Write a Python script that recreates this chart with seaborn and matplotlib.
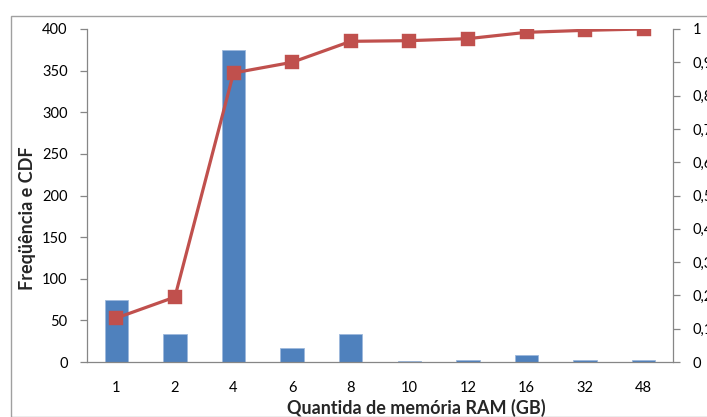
import numpy as np
import matplotlib
matplotlib.use("Agg")
import matplotlib.pyplot as plt
from matplotlib.patches import Rectangle
from matplotlib.ticker import FuncFormatter
import seaborn as sns

# RAM sizes (GB), how many machines have each, and the cumulative share
ram_gb = ["1", "2", "4", "6", "8", "10", "12", "16", "32", "48"]
frequency = [74, 34, 375, 17, 34, 1, 2, 9, 3, 2]
cdf = [0.132, 0.195, 0.868, 0.900, 0.963, 0.965, 0.971, 0.990, 0.996, 1.000]

left_ticks = list(range(0, 401, 50))
right_ticks = [round(v * 0.1, 1) for v in range(11)]

BAR_BLUE = "#4F81BD"
LINE_RED = "#C0504D"
AXIS_GREY = "#868686"

sns.set_style("white")
plt.rcParams["font.family"] = ["Lato", "DejaVu Sans"]

W, H = 707, 417
fig = plt.figure(figsize=(W / 100, H / 100), dpi=100)

# chart frame
fig.patches.append(Rectangle((11 / W, 0), 1.2, 1 - 16 / H, transform=fig.transFigure,
                             fill=False, edgecolor="#A0A0A0", linewidth=1.0, zorder=0))

ax_left, ax_right, ax_top, ax_bottom = 87, 673, 29, 362
ax = fig.add_axes([ax_left / W, 1 - ax_bottom / H, (ax_right - ax_left) / W, (ax_bottom - ax_top) / H])
ax.patch.set_alpha(0)

sns.barplot(x=ram_gb, y=frequency, order=ram_gb, color=BAR_BLUE, saturation=1,
            width=0.4, edgecolor="#9DB9DC", linewidth=0.6, ax=ax)

ax2 = ax.twinx()
sns.pointplot(x=ram_gb, y=cdf, order=ram_gb, color=LINE_RED, marker="s",
              markersize=9, linewidth=2.3, ax=ax2)

ax.set_xlim(-0.5, len(ram_gb) - 0.5)
ax2.set_xlim(-0.5, len(ram_gb) - 0.5)
ax.set_ylim(0, 400)
ax2.set_ylim(0, 1)
ax.set_yticks(left_ticks)
ax2.set_yticks(right_ticks)
ax2.yaxis.set_major_formatter(FuncFormatter(
    lambda v, _: "0" if abs(v) < 1e-9 else ("1" if abs(v - 1) < 1e-9 else f"{v:.1f}".replace(".", ","))))

# tick marks sit between the categories
ax.set_xticks(np.arange(-0.5, len(ram_gb), 1), minor=True)
ax.tick_params(axis="x", which="major", length=0, pad=14, labelsize=10.5, colors="black")
ax.tick_params(axis="x", which="minor", length=5, width=0.9, color=AXIS_GREY, direction="out")
ax.tick_params(axis="y", which="major", length=5, width=0.9, color=AXIS_GREY,
               direction="out", pad=9, labelsize=10.5, labelcolor="black", left=True)
ax2.tick_params(axis="y", which="major", length=5, width=0.9, color=AXIS_GREY,
                direction="out", pad=9, labelsize=10.5, labelcolor="black", right=True)

for a in (ax, ax2):
    a.spines["top"].set_visible(False)
    for s in ("left", "right", "bottom"):
        a.spines[s].set_color(AXIS_GREY)
        a.spines[s].set_linewidth(0.9)
    a.grid(False)
ax.spines["right"].set_visible(False)
ax2.spines["left"].set_visible(False)
ax2.spines["bottom"].set_visible(False)

span_w = ax_right - ax_left
span_h = ax_bottom - ax_top
ax.set_xlabel("Quantida de memória RAM (GB)", fontsize=13, fontweight="bold", va="center")
ax.xaxis.set_label_coords((416 - ax_left) / span_w, (ax_bottom - 408) / span_h)
ax.set_ylabel("Freqüência e CDF", fontsize=13, fontweight="bold", va="center")
ax.yaxis.set_label_coords((28 - ax_left) / span_w, (ax_bottom - 218) / span_h)
ax2.set_ylabel("")
ax2.set_xlabel("")

fig.savefig("out.png", dpi=100)
